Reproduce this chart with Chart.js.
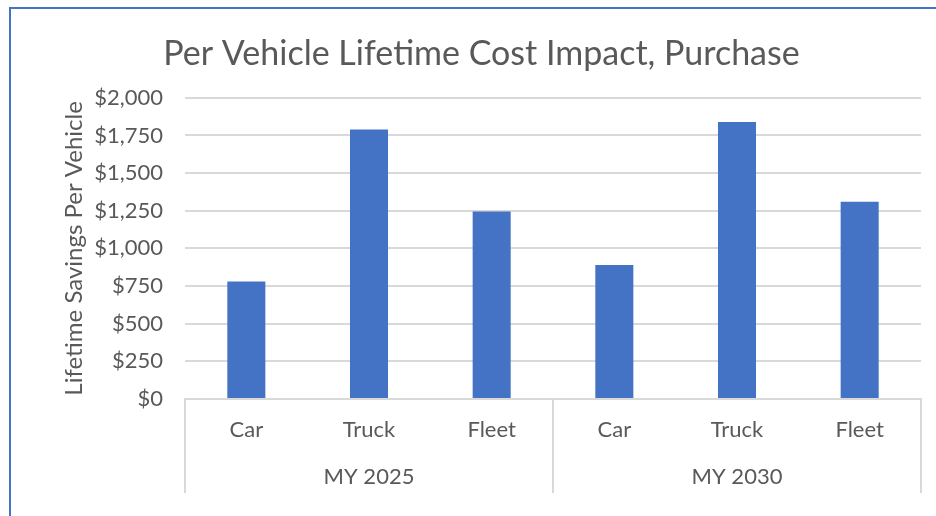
<!DOCTYPE html>
<html>
<head>
    <title>Per Vehicle Lifetime Cost Impact</title>
    <script src="https://cdn.jsdelivr.net/npm/chart.js"></script>
    <style>
        body { margin: 0; background: #fff; }
        #wrap { position: relative; width: 936px; height: 516px; overflow: hidden; }
        #frame { position: absolute; left: 9px; top: 7px; width: 1000px; height: 600px;
                 border-left: 2px solid #4472C4; border-top: 2px solid #4472C4; }
        canvas { position: absolute; left: 0; top: 0; }
    </style>
</head>
<body>
<div id="wrap">
    <canvas id="costChart" width="936" height="516"></canvas>
    <div id="frame"></div>
</div>
<script>
    const categories = ['Car', 'Truck', 'Fleet', 'Car', 'Truck', 'Fleet'];
    const groups = ['MY 2025', 'MY 2030'];
    const savings = [780, 1790, 1245, 890, 1840, 1310];
    const yTicks = [0, 250, 500, 750, 1000, 1250, 1500, 1750, 2000];

    const textColor = '#595959';
    const gridColor = '#d9d9d9';
    const fontFamily = 'Lato, "Open Sans", sans-serif';

    // vertical separators between the two model years, below the plot
    const groupLines = {
        id: 'groupLines',
        afterDraw(chart) {
            const x2 = chart.scales.x2;
            const ctx = chart.ctx;
            ctx.save();
            ctx.strokeStyle = gridColor;
            ctx.lineWidth = 2;
            for (let i = 0; i <= groups.length; i++) {
                const px = x2.getPixelForValue(i - 0.5);
                ctx.beginPath();
                ctx.moveTo(px, chart.chartArea.bottom);
                ctx.lineTo(px, x2.bottom);
                ctx.stroke();
            }
            ctx.restore();
        }
    };

    new Chart(document.getElementById('costChart'), {
        type: 'bar',
        data: {
            labels: categories,
            datasets: [{
                data: savings,
                backgroundColor: '#4472C4',
                categoryPercentage: 1,
                barPercentage: 0.31
            }]
        },
        options: {
            responsive: false,
            animation: false,
            layout: { padding: { left: 42, right: 15, top: 0, bottom: 23 } },
            plugins: {
                legend: { display: false },
                tooltip: { enabled: false },
                title: {
                    display: true,
                    text: 'Per Vehicle Lifetime Cost Impact, Purchase',
                    color: textColor,
                    font: { family: fontFamily, size: 34, weight: 'normal' },
                    padding: { top: 34, bottom: 23 }
                }
            },
            scales: {
                y: {
                    min: 0,
                    max: 2000,
                    afterBuildTicks(scale) {
                        scale.ticks = yTicks.map(v => ({ value: v }));
                    },
                    afterFit(scale) { scale.width = 143; },
                    ticks: {
                        color: textColor,
                        font: { family: fontFamily, size: 22 },
                        padding: 22,
                        callback: v => '$' + v.toLocaleString('en-US')
                    },
                    grid: { color: gridColor, lineWidth: 2, drawTicks: false },
                    border: { display: false },
                    title: {
                        display: true,
                        text: 'Lifetime Savings Per Vehicle',
                        color: textColor,
                        font: { family: fontFamily, size: 24 },
                        padding: { top: 18, bottom: 0 }
                    }
                },
                x: {
                    weight: 0,
                    afterFit(scale) { scale.height = 47; },
                    ticks: {
                        color: textColor,
                        font: { family: fontFamily, size: 22 },
                        padding: 10,
                        maxRotation: 0
                    },
                    grid: { display: false },
                    border: { display: true, color: gridColor, width: 2 }
                },
                x2: {
                    type: 'category',
                    position: 'bottom',
                    weight: 1,
                    labels: groups,
                    offset: true,
                    afterFit(scale) { scale.height = 47; },
                    ticks: {
                        color: textColor,
                        font: { family: fontFamily, size: 22 },
                        padding: 10,
                        maxRotation: 0
                    },
                    grid: { display: false },
                    border: { display: false }
                }
            }
        },
        plugins: [groupLines]
    });
</script>
</body>
</html>
